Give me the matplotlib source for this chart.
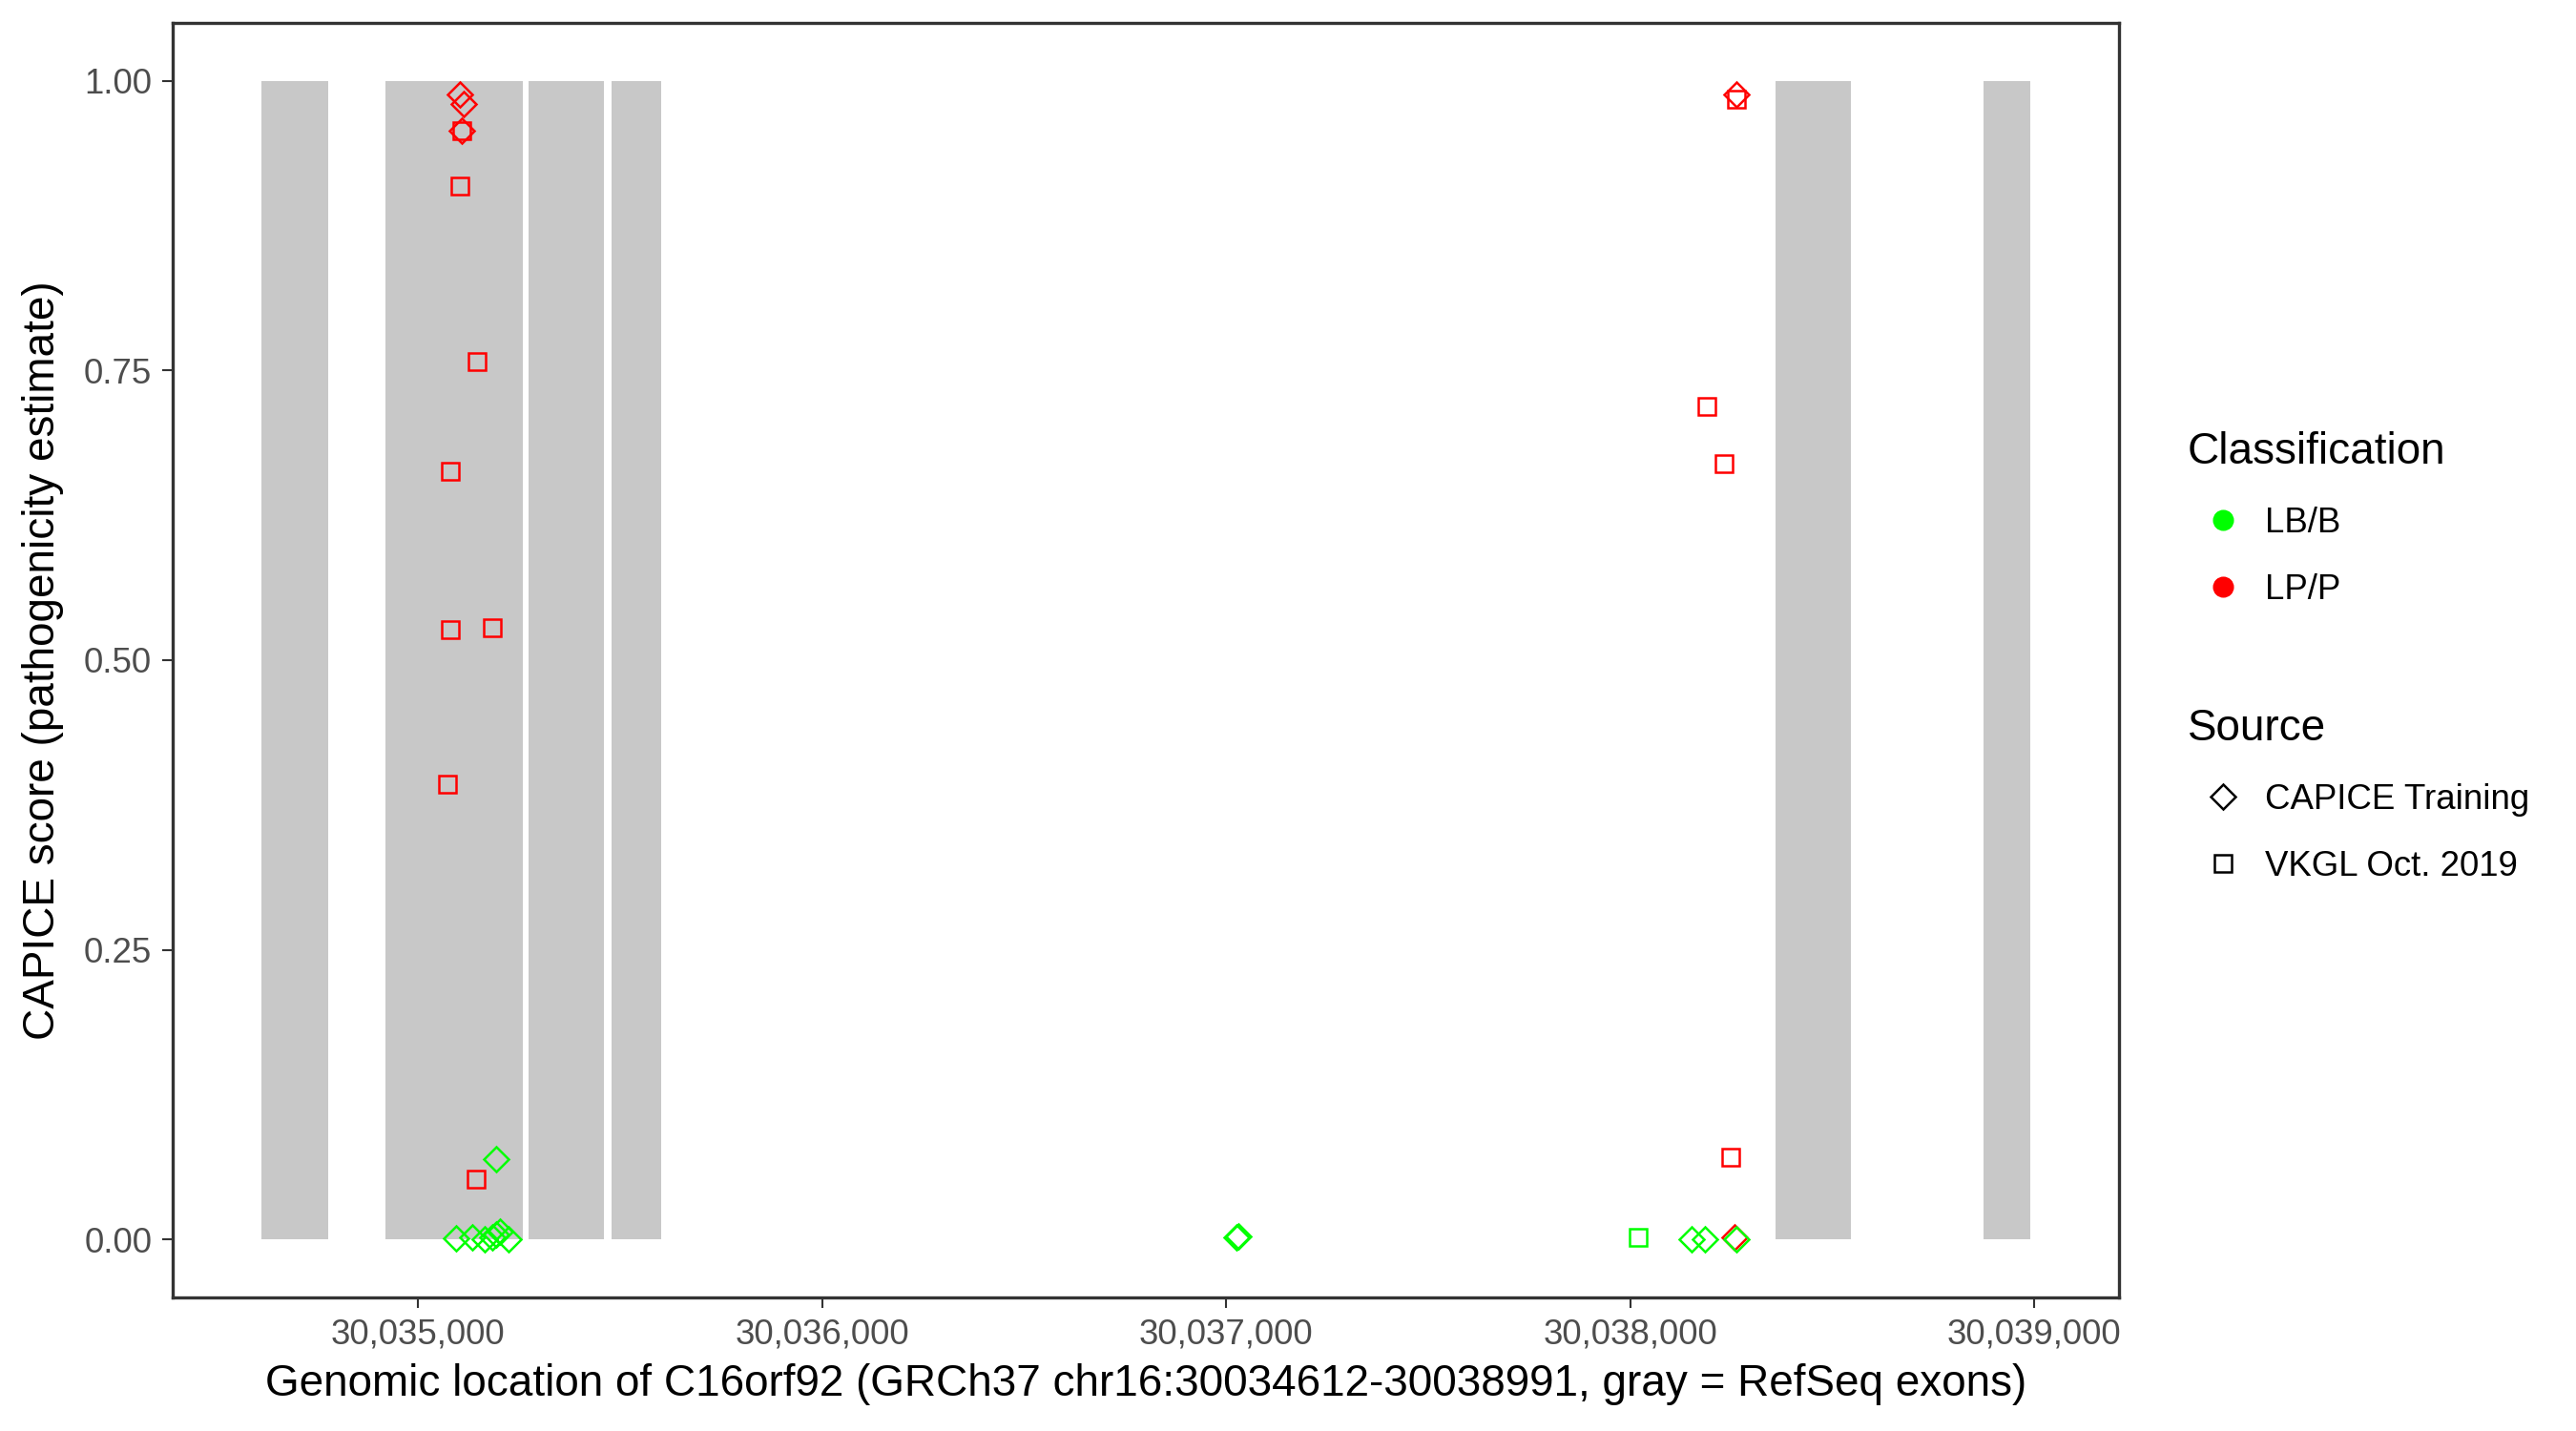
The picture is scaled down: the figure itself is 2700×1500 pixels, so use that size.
import numpy as np
import matplotlib
matplotlib.use('Agg')
import matplotlib.pyplot as plt
from matplotlib.lines import Line2D

plt.rcParams['font.family'] = ['Liberation Sans', 'DejaVu Sans']

# Exons RefSeq (debut, fin)
exon_start = [30034612, 30034920, 30035274, 30035479, 30038361, 30038875]
exon_end = [30034778, 30035259, 30035460, 30035601, 30038547, 30038991]

# Variants: position, score CAPICE, classification, source
pos = [30035104, 30035113, 30035108, 30035108, 30035104, 30035146, 30035080,
       30035080, 30035184, 30035073, 30035193, 30035144,
       30035094, 30035134, 30035165, 30035184, 30035193, 30035203, 30035224,
       30037026, 30037030,
       30038264, 30038262, 30038191, 30038233, 30038250, 30038259,
       30038021, 30038153, 30038184, 30038264]
score = [0.988, 0.980, 0.957, 0.957, 0.909, 0.758, 0.663,
         0.526, 0.528, 0.393, 0.069, 0.052,
         0.001, 0.002, 0.000, 0.002, 0.004, 0.007, 0.000,
         0.002, 0.003,
         0.988, 0.984, 0.719, 0.670, 0.071, 0.002,
         0.002, 0.000, 0.000, 0.000]
classif = ['LP/P', 'LP/P', 'LP/P', 'LP/P', 'LP/P', 'LP/P', 'LP/P',
           'LP/P', 'LP/P', 'LP/P', 'LB/B', 'LP/P',
           'LB/B', 'LB/B', 'LB/B', 'LB/B', 'LB/B', 'LB/B', 'LB/B',
           'LB/B', 'LB/B',
           'LP/P', 'LP/P', 'LP/P', 'LP/P', 'LP/P', 'LP/P',
           'LB/B', 'LB/B', 'LB/B', 'LB/B']
source = ['CAPICE Training', 'CAPICE Training', 'VKGL Oct. 2019', 'CAPICE Training',
          'VKGL Oct. 2019', 'VKGL Oct. 2019', 'VKGL Oct. 2019',
          'VKGL Oct. 2019', 'VKGL Oct. 2019', 'VKGL Oct. 2019', 'CAPICE Training', 'VKGL Oct. 2019',
          'CAPICE Training', 'CAPICE Training', 'CAPICE Training', 'CAPICE Training',
          'CAPICE Training', 'CAPICE Training', 'CAPICE Training',
          'CAPICE Training', 'CAPICE Training',
          'CAPICE Training', 'VKGL Oct. 2019', 'VKGL Oct. 2019', 'VKGL Oct. 2019',
          'VKGL Oct. 2019', 'CAPICE Training',
          'VKGL Oct. 2019', 'CAPICE Training', 'CAPICE Training', 'CAPICE Training']

gene_start = 30034612
gene_end = 30038991

couleurs = {'LB/B': '#00FF00', 'LP/P': '#FF0000'}
formes = {'CAPICE Training': 'D', 'VKGL Oct. 2019': 's'}

pos = np.array(pos)
score = np.array(score)
classif = np.array(classif)
source = np.array(source)

fig = plt.figure(figsize=(9, 5), dpi=300)
ax = fig.add_axes([181 / 2700, 1 - 1360 / 1500, (2221 - 181) / 2700, (1360 - 24) / 1500])

# Exons en gris
ax.bar(exon_start, 1.0, width=np.array(exon_end) - np.array(exon_start), bottom=0,
       align='edge', color='#C8C8C8', linewidth=0, zorder=1)

# Points
for c in ['LP/P', 'LB/B']:
    for s in ['CAPICE Training', 'VKGL Oct. 2019']:
        m = (classif == c) & (source == s)
        ax.plot(pos[m], score[m], linestyle='none', marker=formes[s], markersize=4.3,
                markerfacecolor='none', markeredgecolor=couleurs[c], markeredgewidth=0.6, zorder=3)

w = gene_end - gene_start
ax.set_xlim(gene_start - 0.05 * w, gene_end + 0.05 * w)
ax.set_ylim(-0.05, 1.05)

ax.set_xticks([30035000, 30036000, 30037000, 30038000, 30039000])
ax.set_xticklabels(['30,035,000', '30,036,000', '30,037,000', '30,038,000', '30,039,000'])
ax.set_yticks([0, 0.25, 0.5, 0.75, 1.0])
ax.set_yticklabels(['0.00', '0.25', '0.50', '0.75', '1.00'])
ax.tick_params(labelsize=8.8, labelcolor='#4D4D4D', color='#333333', length=2.75, width=0.5, pad=2.5)
for sp in ax.spines.values():
    sp.set_color('#333333')
    sp.set_linewidth(0.8)

ax.set_xlabel('Genomic location of C16orf92 (GRCh37 chr16:30034612-30038991, gray = RefSeq exons)',
              fontsize=11, labelpad=3)
ax.set_ylabel('CAPICE score (pathogenicity estimate)', fontsize=11, labelpad=5)

# Legendes
h1 = [Line2D([], [], linestyle='none', marker='o', markersize=4.3, color=couleurs[c]) for c in ['LB/B', 'LP/P']]
leg1 = fig.legend(h1, ['LB/B', 'LP/P'], title='Classification', loc='upper left',
                  bbox_to_anchor=(2293 / 2700, 1 - 452 / 1500), frameon=False, alignment='left',
                  fontsize=8.8, title_fontsize=11, handlelength=2.0, handletextpad=0.2,
                  labelspacing=0.95, borderaxespad=0, borderpad=0)
h2 = [Line2D([], [], linestyle='none', marker=formes[s], markersize=4.3, markerfacecolor='none',
             markeredgecolor='black', markeredgewidth=0.6) for s in ['CAPICE Training', 'VKGL Oct. 2019']]
leg2 = fig.legend(h2, ['CAPICE Training', 'VKGL Oct. 2019'], title='Source', loc='upper left',
                  bbox_to_anchor=(2293 / 2700, 1 - 742 / 1500), frameon=False, alignment='left',
                  fontsize=8.8, title_fontsize=11, handlelength=2.0, handletextpad=0.2,
                  labelspacing=0.95, borderaxespad=0, borderpad=0)

fig.savefig('out.png', dpi=300, facecolor='white')
